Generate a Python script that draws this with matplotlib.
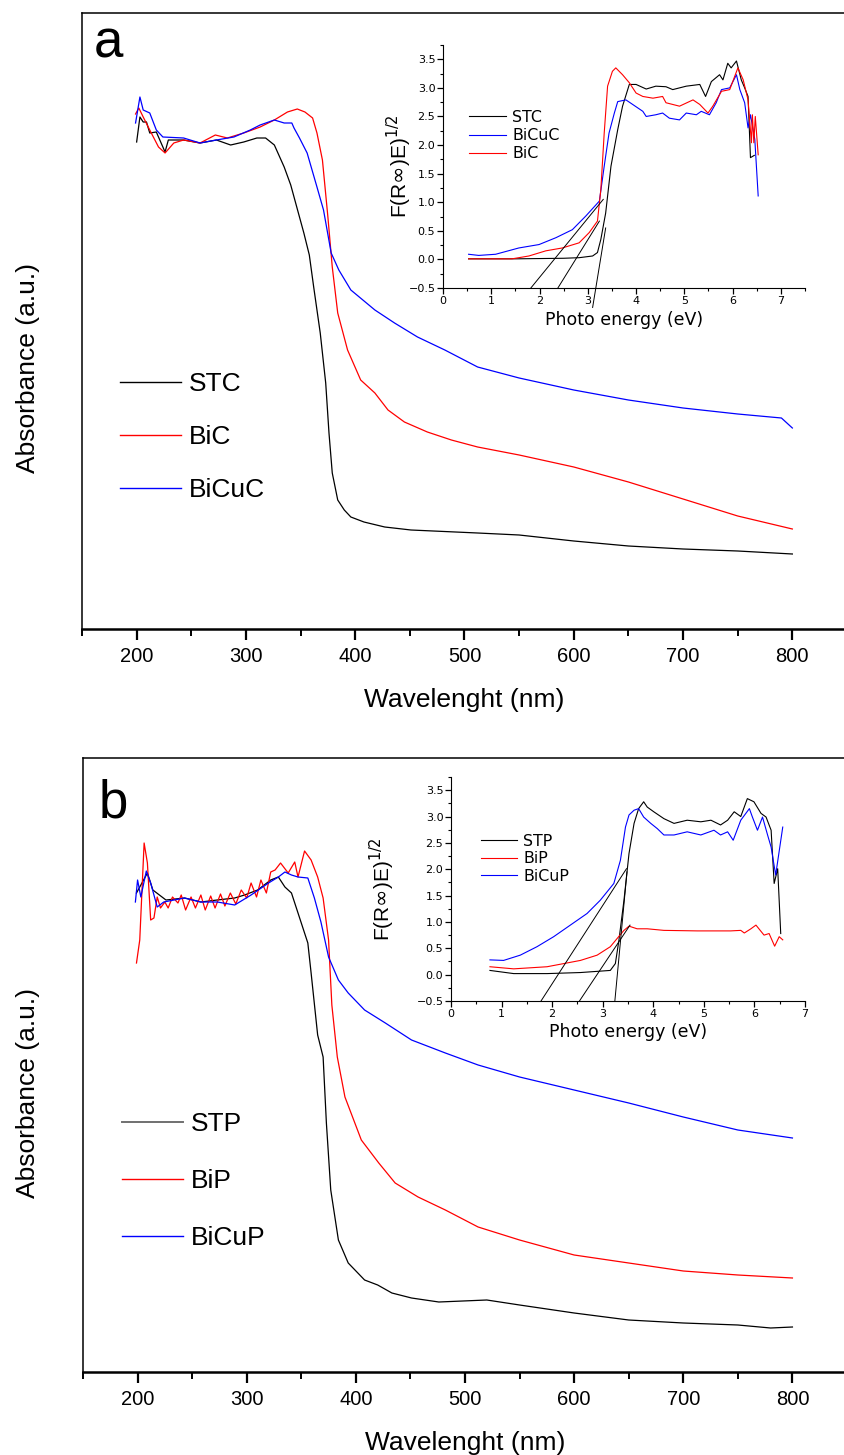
import matplotlib
matplotlib.use("Agg")
import matplotlib.pyplot as plt
from matplotlib.ticker import MultipleLocator
from matplotlib.lines import Line2D

plt.rcParams['font.family'] = ['Liberation Sans', 'DejaVu Sans']

# ---------------- panel a : main spectra ----------------
stc_wl = [200, 203, 206, 209, 212, 218, 226, 229, 243, 258, 273, 286, 298, 310,
          318, 326, 335, 341, 349, 353, 358, 362, 368, 373, 376, 379, 384, 390,
          396, 408, 427, 451, 512, 550, 600, 650, 700, 750, 800]
stc_abs = [0.974, 1.024, 1.014, 1.014, 0.992, 0.994, 0.954, 0.978, 0.978, 0.972,
           0.978, 0.968, 0.974, 0.982, 0.982, 0.968, 0.924, 0.888, 0.824, 0.792,
           0.748, 0.684, 0.592, 0.492, 0.392, 0.312, 0.258, 0.238, 0.224, 0.214,
           0.204, 0.198, 0.192, 0.188, 0.176, 0.166, 0.160, 0.156, 0.150]

bic_wl = [199, 202, 206, 212, 220, 226, 234, 243, 258, 272, 283, 298, 313, 326,
          338, 347, 354, 361, 365, 370, 375, 379, 384, 393, 405, 418, 430, 445,
          466, 488, 512, 550, 600, 650, 700, 750, 800]
bic_abs = [1.030, 1.042, 1.024, 0.998, 0.964, 0.952, 0.972, 0.978, 0.972, 0.988,
           0.982, 0.992, 1.004, 1.018, 1.034, 1.040, 1.034, 1.022, 0.992, 0.938,
           0.824, 0.724, 0.632, 0.558, 0.498, 0.472, 0.438, 0.414, 0.394, 0.378,
           0.364, 0.348, 0.324, 0.294, 0.260, 0.226, 0.200]

bicuc_wl = [199, 203, 206, 212, 218, 224, 243, 258, 273, 289, 304, 313, 326, 335,
            342, 344, 349, 356, 365, 371, 378, 385, 396, 418, 436, 457, 482, 512,
            550, 600, 650, 700, 750, 790, 800]
bicuc_abs = [1.012, 1.064, 1.038, 1.032, 0.998, 0.984, 0.982, 0.972, 0.978, 0.984,
             0.998, 1.008, 1.018, 1.012, 1.012, 1.002, 0.982, 0.952, 0.884, 0.838,
             0.752, 0.718, 0.678, 0.638, 0.612, 0.584, 0.558, 0.524, 0.502, 0.478,
             0.458, 0.442, 0.430, 0.422, 0.402]

# ---------------- panel a : inset (Kubelka-Munk) ----------------
stc_e = [0.53, 1.5, 2.5, 2.82, 3.1, 3.2, 3.27, 3.37, 3.48, 3.62, 3.72, 3.86, 4.0,
         4.21, 4.41, 4.62, 4.76, 5.04, 5.32, 5.44, 5.56, 5.73, 5.8, 5.9, 5.97,
         6.08, 6.18, 6.25, 6.32, 6.37, 6.45]
stc_f = [0.01, 0.01, 0.02, 0.03, 0.06, 0.12, 0.35, 0.81, 1.63, 2.27, 2.68, 3.06,
         3.06, 2.98, 3.03, 3.02, 2.97, 3.03, 3.06, 2.85, 3.11, 3.23, 3.14, 3.43,
         3.35, 3.47, 3.14, 3.0, 2.85, 1.78, 1.82]

bicuc_e = [0.53, 0.74, 1.09, 1.57, 1.99, 2.34, 2.68, 2.96, 3.24, 3.34, 3.44, 3.55,
           3.62, 3.79, 3.93, 4.14, 4.21, 4.41, 4.55, 4.69, 4.9, 5.04, 5.25, 5.35,
           5.52, 5.66, 5.77, 5.94, 6.08, 6.15, 6.25, 6.32, 6.37, 6.46, 6.53]
bicuc_f = [0.09, 0.07, 0.09, 0.20, 0.26, 0.38, 0.52, 0.76, 1.02, 1.63, 2.21, 2.56,
           2.76, 2.79, 2.71, 2.59, 2.50, 2.53, 2.56, 2.47, 2.44, 2.56, 2.53, 2.59,
           2.53, 2.74, 2.97, 3.00, 3.23, 2.97, 2.74, 2.30, 2.53, 2.10, 1.11]

bic_e = [0.53, 1.43, 1.78, 2.13, 2.47, 2.82, 3.03, 3.2, 3.27, 3.34, 3.41, 3.51,
         3.58, 3.72, 3.86, 4.0, 4.14, 4.35, 4.55, 4.62, 4.9, 5.18, 5.32, 5.49,
         5.59, 5.77, 5.94, 6.11, 6.22, 6.32, 6.39, 6.41, 6.44, 6.47, 6.53]
bic_f = [0.01, 0.01, 0.06, 0.15, 0.20, 0.29, 0.47, 0.67, 1.22, 2.21, 3.03, 3.29,
         3.35, 3.23, 3.09, 2.91, 2.85, 2.82, 2.85, 2.74, 2.68, 2.79, 2.71, 2.56,
         2.68, 2.94, 2.97, 3.35, 3.14, 2.79, 2.04, 2.53, 2.04, 2.50, 1.83]

# band-gap tangent lines (start / end points)
tan_a_e = [[1.82, 3.32], [2.38, 3.24], [3.10, 3.37]]
tan_a_f = [[-0.5, 1.05], [-0.5, 0.67], [-0.84, 0.55]]

# ---------------- panel b : main spectra ----------------
stp_wl = [199, 209, 214, 220, 226, 243, 258, 273, 289, 298, 310, 322, 329, 335,
          341, 350, 356, 359, 365, 370, 373, 377, 384, 393, 408, 420, 433, 451,
          476, 520, 550, 600, 650, 700, 750, 780, 800]
stp_abs = [0.958, 0.998, 0.964, 0.954, 0.944, 0.948, 0.940, 0.944, 0.948, 0.954,
           0.964, 0.984, 0.990, 0.970, 0.958, 0.898, 0.858, 0.798, 0.674, 0.630,
           0.498, 0.364, 0.264, 0.218, 0.184, 0.174, 0.158, 0.148, 0.140, 0.144,
           0.134, 0.118, 0.104, 0.098, 0.094, 0.088, 0.090]

bip_wl = [199, 202, 206, 209, 212, 215, 218, 221, 225, 228, 232, 237, 240, 244,
          249, 253, 258, 262, 267, 271, 276, 280, 285, 290, 295, 300, 304, 309,
          313, 318, 322, 326, 331, 338, 344, 347, 353, 359, 365, 370, 375, 378,
          383, 390, 405, 421, 436, 457, 482, 512, 550, 600, 650, 700, 750, 800]
bip_abs = [0.818, 0.864, 1.058, 1.018, 0.904, 0.908, 0.950, 0.928, 0.940, 0.928,
           0.950, 0.938, 0.954, 0.924, 0.950, 0.928, 0.954, 0.924, 0.952, 0.928,
           0.956, 0.932, 0.958, 0.936, 0.964, 0.948, 0.978, 0.950, 0.984, 0.958,
           1.000, 1.004, 1.018, 0.998, 1.020, 0.990, 1.042, 1.024, 0.990, 0.948,
           0.864, 0.734, 0.630, 0.550, 0.464, 0.418, 0.378, 0.350, 0.324, 0.290,
           0.264, 0.234, 0.218, 0.202, 0.194, 0.188]

bicup_wl = [198, 200, 203, 208, 212, 218, 224, 243, 258, 273, 289, 304, 320, 329,
            335, 341, 347, 356, 362, 368, 375, 384, 393, 408, 427, 451, 482, 512,
            550, 600, 650, 700, 750, 800]
bicup_abs = [0.940, 0.984, 0.950, 1.002, 0.978, 0.930, 0.940, 0.948, 0.940, 0.940,
             0.934, 0.954, 0.978, 0.990, 1.000, 0.994, 0.990, 0.988, 0.948, 0.900,
             0.830, 0.784, 0.758, 0.724, 0.698, 0.664, 0.638, 0.614, 0.590, 0.564,
             0.538, 0.510, 0.484, 0.468]

# ---------------- panel b : inset ----------------
stp_e = [0.77, 1.24, 1.9, 2.56, 3.15, 3.25, 3.32, 3.42, 3.52, 3.62, 3.71, 3.81,
         3.88, 4.01, 4.21, 4.41, 4.67, 4.94, 5.14, 5.33, 5.47, 5.6, 5.73, 5.86,
         5.99, 6.13, 6.23, 6.33, 6.39, 6.46, 6.52]
stp_f = [0.08, 0.02, 0.02, 0.04, 0.08, 0.21, 0.65, 1.41, 2.30, 2.87, 3.15, 3.28,
         3.18, 3.09, 2.96, 2.87, 2.93, 2.90, 2.93, 2.84, 2.93, 3.09, 3.00, 3.34,
         3.28, 3.06, 2.99, 2.74, 1.73, 2.01, 0.78]

bip_e = [0.77, 1.24, 1.9, 2.23, 2.56, 2.89, 3.15, 3.28, 3.42, 3.52, 3.68, 3.88,
         4.21, 4.87, 5.53, 5.73, 5.80, 5.93, 6.03, 6.19, 6.29, 6.40, 6.49, 6.56]
bip_f = [0.15, 0.11, 0.15, 0.21, 0.27, 0.37, 0.53, 0.68, 0.84, 0.92, 0.87, 0.87,
         0.84, 0.83, 0.83, 0.84, 0.79, 0.87, 0.94, 0.75, 0.78, 0.54, 0.72, 0.66]

bicup_e = [0.77, 1.04, 1.37, 1.70, 2.03, 2.36, 2.69, 2.95, 3.22, 3.35, 3.45, 3.52,
           3.62, 3.71, 3.81, 3.95, 4.08, 4.21, 4.41, 4.67, 4.94, 5.2, 5.33, 5.47,
           5.58, 5.73, 5.90, 5.96, 6.06, 6.16, 6.26, 6.33, 6.42, 6.56]
bicup_f = [0.28, 0.27, 0.37, 0.53, 0.72, 0.94, 1.16, 1.41, 1.73, 2.17, 2.80, 3.03,
           3.12, 3.15, 2.99, 2.87, 2.77, 2.65, 2.65, 2.71, 2.65, 2.74, 2.65, 2.71,
           2.55, 2.93, 3.15, 2.99, 2.74, 2.99, 2.65, 2.42, 1.89, 2.80]

tan_b_e = [[1.78, 3.47], [2.54, 3.54], [3.24, 3.48]]
tan_b_f = [[-0.5, 2.01], [-0.5, 0.94], [-0.5, 1.95]]

W, H = 844, 1455
fig = plt.figure(figsize=(W / 100, H / 100), dpi=100)


def style_main(ax, top):
    ax.set_xlim(150, 850)
    ax.set_ylim(0, top)
    ax.set_yticks([])
    ax.xaxis.set_major_locator(MultipleLocator(100))
    ax.xaxis.set_minor_locator(MultipleLocator(50))
    ax.tick_params(axis='x', which='major', direction='out', length=8, width=1.6,
                   labelsize=14.5, pad=5)
    ax.tick_params(axis='x', which='minor', direction='out', length=5, width=1.4)
    for s in ax.spines.values():
        s.set_linewidth(1.1)
    ax.spines['bottom'].set_linewidth(1.8)
    ax.set_xlabel("Wavelenght (nm)", fontsize=19)
    ax.xaxis.set_label_coords(0.5, -0.115)
    ax.xaxis.label.set_va('center')


def style_inset(ax, xmax):
    ax.set_xlim(0, xmax)
    ax.set_ylim(-0.5, 3.75)
    ax.spines['top'].set_visible(False)
    ax.spines['right'].set_visible(False)
    ax.xaxis.set_major_locator(MultipleLocator(1))
    ax.xaxis.set_minor_locator(MultipleLocator(0.5))
    ax.yaxis.set_major_locator(MultipleLocator(0.5))
    ax.yaxis.set_minor_locator(MultipleLocator(0.25))
    ax.tick_params(which='major', direction='out', length=4, width=0.9,
                   labelsize=8, pad=1.5)
    ax.tick_params(which='minor', direction='out', length=2.5, width=0.8)
    for lab in ax.get_xticklabels() + ax.get_yticklabels():
        lab.set_family('DejaVu Sans')
    ax.set_xlabel("Photo energy (eV)", fontsize=12.5, family='DejaVu Sans')
    ax.set_ylabel(r"F(R$\infty$)E)$^{1/2}$", fontsize=15,
                  family=['Liberation Sans Narrow', 'Liberation Sans'])


# ===== panel a =====
ax_a = fig.add_axes([82 / W, 1 - 629 / H, 765 / W, 616 / H])
ax_a.plot(stc_wl, stc_abs, color='black', lw=0.9)
ax_a.plot(bic_wl, bic_abs, color='#ff0000', lw=0.9)
ax_a.plot(bicuc_wl, bicuc_abs, color='#0000ff', lw=0.9)
style_main(ax_a, 1.232)
h_a = [Line2D([], [], color='black', lw=1.0),
       Line2D([], [], color='#ff0000', lw=1.0),
       Line2D([], [], color='#0000ff', lw=1.0)]
ax_a.legend(h_a, ["STC", "BiC", "BiCuC"], loc='upper left',
            bbox_to_anchor=(120 / W, 1 - 372 / H), bbox_transform=fig.transFigure,
            frameon=False, fontsize=19, handlelength=2.3, handletextpad=0.3,
            labelspacing=1.1, borderpad=0, borderaxespad=0)

in_a = fig.add_axes([443 / W, 1 - 288 / H, 362 / W, 243 / H])
in_a.plot(stc_e, stc_f, color='black', lw=0.8)
in_a.plot(bicuc_e, bicuc_f, color='#0000ff', lw=0.8)
in_a.plot(bic_e, bic_f, color='#ff0000', lw=0.8)
for xs, ys in zip(tan_a_e, tan_a_f):
    in_a.plot(xs, ys, color='black', lw=0.7, clip_on=False)
style_inset(in_a, 7.5)
in_a.xaxis.set_label_coords(0.5, -0.095)
in_a.yaxis.set_label_coords(-0.08, 0.5)
in_a.legend(in_a.lines[:3], ["STC", "BiCuC", "BiC"], loc='upper left',
            bbox_to_anchor=(469 / W, 1 - 110 / H), bbox_transform=fig.transFigure,
            frameon=False, prop={'family': 'DejaVu Sans', 'size': 11.4},
            handlelength=2.35, handletextpad=0.38, labelspacing=0.2,
            borderpad=0, borderaxespad=0)

fig.text(94 / W, 1 - 58 / H, "a", fontsize=38, va='baseline', ha='left')
fig.text(28 / W, 1 - 368 / H, "Absorbance (a.u.)", fontsize=19, rotation=90,
         ha='center', va='center')

# ===== panel b =====
ax_b = fig.add_axes([83 / W, 1 - 1372 / H, 764 / W, 614 / H])
ax_b.plot(stp_wl, stp_abs, color='black', lw=0.9)
ax_b.plot(bip_wl, bip_abs, color='#ff0000', lw=0.9)
ax_b.plot(bicup_wl, bicup_abs, color='#0000ff', lw=0.9)
style_main(ax_b, 1.228)
h_b = [Line2D([], [], color='#707070', lw=1.4),
       Line2D([], [], color='#ff0000', lw=1.0),
       Line2D([], [], color='#0000ff', lw=1.0)]
ax_b.legend(h_b, ["STP", "BiP", "BiCuP"], loc='upper left',
            bbox_to_anchor=(122 / W, 1 - 1112 / H), bbox_transform=fig.transFigure,
            frameon=False, fontsize=19, handlelength=2.3, handletextpad=0.3,
            labelspacing=1.25, borderpad=0, borderaxespad=0)

in_b = fig.add_axes([451 / W, 1 - 1001 / H, 354 / W, 224 / H])
in_b.plot(stp_e, stp_f, color='black', lw=0.8)
in_b.plot(bip_e, bip_f, color='#ff0000', lw=0.8)
in_b.plot(bicup_e, bicup_f, color='#0000ff', lw=0.8)
for xs, ys in zip(tan_b_e, tan_b_f):
    in_b.plot(xs, ys, color='black', lw=0.7)
style_inset(in_b, 7)
in_b.xaxis.set_label_coords(0.5, -0.10)
in_b.yaxis.set_label_coords(-0.152, 0.5)
in_b.legend(in_b.lines[:3], ["STP", "BiP", "BiCuP"], loc='upper left',
            bbox_to_anchor=(481 / W, 1 - 834 / H), bbox_transform=fig.transFigure,
            frameon=False, prop={'family': 'DejaVu Sans', 'size': 11.4},
            handlelength=2.3, handletextpad=0.38, labelspacing=0.15,
            borderpad=0, borderaxespad=0)

fig.text(99 / W, 1 - 818 / H, "b", fontsize=38, va='baseline', ha='left')
fig.text(28 / W, 1 - 1093 / H, "Absorbance (a.u.)", fontsize=19, rotation=90,
         ha='center', va='center')

fig.savefig("out.png", dpi=100)
